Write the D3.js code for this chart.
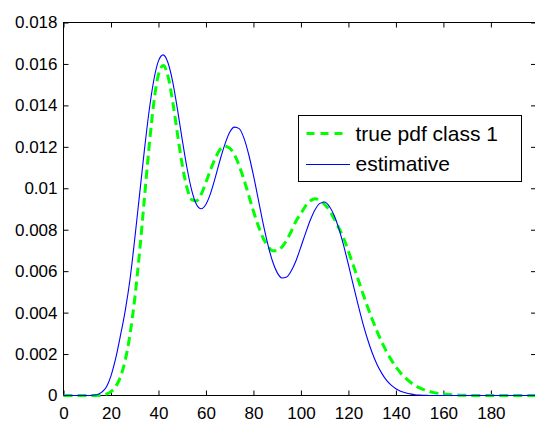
<!DOCTYPE html>
<html><head><meta charset="utf-8">
<script src="https://cdn.jsdelivr.net/npm/d3@7"></script>
<style>
body{margin:0;background:#fff;}
svg{display:block;}
text{font-family:"Liberation Sans",Arial,Helvetica,sans-serif;fill:#000;}
</style>
</head><body>
<svg id="c" width="535" height="422"></svg>
<script>
// ---- data ----
const xValues = [0,2,4,6,8,10,12,14,16,18,20,22,24,26,28,30,32,34,36,38,40,42,44,46,48,50,52,54,56,58,60,62,64,66,68,70,72,74,76,78,80,82,84,86,88,90,92,94,96,98,100,102,104,106,108,110,112,114,116,118,120,122,124,126,128,130,132,134,136,138,140,142,144,146,148,150,152,154,156,158,160,162,164,166,168,170,172,199];
const truePdf = [0,0,0,0,0,0,0,0,0.00002,0.00007,0.00019,0.00043,0.0009,0.0017,0.00294,0.00467,0.00688,0.00941,0.01194,0.0141,0.01549,0.01592,0.01541,0.01417,0.01262,0.01114,0.01003,0.00945,0.00939,0.00971,0.01029,0.01091,0.01147,0.01188,0.01203,0.01194,0.01162,0.01109,0.01042,0.00966,0.00889,0.0082,0.00762,0.00721,0.00699,0.00698,0.00717,0.0075,0.00794,0.00843,0.00878,0.00915,0.0094,0.0095,0.00942,0.00922,0.00893,0.00853,0.00808,0.00759,0.00696,0.0063,0.00563,0.00495,0.0043,0.00368,0.00311,0.00259,0.00213,0.00173,0.00138,0.00109,0.00085,0.00065,0.00049,0.00037,0.00027,0.0002,0.00014,0.0001,0.00007,0.00005,0.00003,0.00002,0.00001,0.00001,0,0];
const estimative = [0,0,0,0,0,0,0.00001,0.00004,0.00015,0.0004,0.00095,0.0018,0.0029,0.0041,0.0056,0.00755,0.00966,0.01177,0.01368,0.0152,0.01615,0.01644,0.01606,0.01514,0.01381,0.01235,0.01099,0.0099,0.00922,0.00901,0.00923,0.00978,0.01055,0.01139,0.01213,0.0127,0.01295,0.01288,0.01242,0.01163,0.01062,0.00949,0.00834,0.00732,0.00649,0.00593,0.00567,0.00572,0.00603,0.00653,0.00718,0.00785,0.00848,0.00898,0.00927,0.00934,0.00912,0.00869,0.00804,0.00723,0.00631,0.00535,0.00441,0.00352,0.00274,0.00206,0.00151,0.00108,0.00074,0.0005,0.00033,0.00021,0.00013,0.00008,0.00004,0.00002,0.00001,0,0,0,0,0,0,0,0,0,0,0];
const xTicks = [0,20,40,60,80,100,120,140,160,180];
const yTicks = [0,0.002,0.004,0.006,0.008,0.01,0.012,0.014,0.016,0.018];
const yTickLabels = ["0","0.002","0.004","0.006","0.008","0.01","0.012","0.014","0.016","0.018"];
const seriesNames = ["true pdf class 1","estimative"];

// ---- layout ----
const L = 63.5, R = 536, T = 22.5, B = 395.5;
const svg = d3.select("#c");
const x = d3.scaleLinear().domain([0,199]).range([L,R]);
const y = d3.scaleLinear().domain([0,0.018]).range([B,T]);

svg.append("rect").attr("x",0).attr("y",0).attr("width",535).attr("height",422).attr("fill","#fff");

// frame
svg.append("rect").attr("x",L).attr("y",T).attr("width",R-L).attr("height",B-T)
  .attr("fill","none").attr("stroke","#000").attr("stroke-width",1);

const fs = "17px";
const gB = svg.append("g").attr("transform",`translate(0,${B})`)
  .call(d3.axisBottom(x).tickValues(xTicks).tickSizeInner(-5).tickSizeOuter(0).tickPadding(11.5));
const gT = svg.append("g").attr("transform",`translate(0,${T})`)
  .call(d3.axisTop(x).tickValues(xTicks).tickSizeInner(-5).tickSizeOuter(0).tickFormat(""));
const gL = svg.append("g").attr("transform",`translate(${L},0)`)
  .call(d3.axisLeft(y).tickValues(yTicks).tickSizeInner(-5).tickSizeOuter(0).tickPadding(6)
    .tickFormat((d,i)=>yTickLabels[i]));
const gR = svg.append("g").attr("transform",`translate(${R},0)`)
  .call(d3.axisRight(y).tickValues(yTicks).tickSizeInner(-5).tickSizeOuter(0).tickFormat(""));
[gB,gT,gL,gR].forEach(g=>{
  g.select(".domain").remove();
  g.selectAll("line").attr("stroke","#000").attr("stroke-width",1);
  g.selectAll("text").style("font-size",fs).attr("fill","#000")
   .style("font-family",'"Liberation Sans",Arial,sans-serif');
});

// clip
svg.append("clipPath").attr("id","clip").append("rect")
  .attr("x",L).attr("y",T-3).attr("width",R-L).attr("height",B-T+6);

const pts1 = xValues.map((v,i)=>[v,truePdf[i]]);
const pts2 = xValues.map((v,i)=>[v,estimative[i]]);
const line = d3.line().x(d=>x(d[0])).y(d=>y(d[1])).curve(d3.curveMonotoneX);

const plot = svg.append("g").attr("clip-path","url(#clip)");
plot.append("path").datum(pts1).attr("d",line).attr("fill","none")
  .attr("stroke","#00ff00").attr("stroke-width",3).attr("stroke-dasharray","9,5");
plot.append("path").datum(pts2).attr("d",line).attr("fill","none")
  .attr("stroke","#0000ff").attr("stroke-width",1.1);

// legend
const lg = svg.append("g");
lg.append("rect").attr("x",298.5).attr("y",115.5).attr("width",223).attr("height",66)
  .attr("fill","#fff").attr("stroke","#000").attr("stroke-width",1);
lg.append("line").attr("x1",306.5).attr("x2",348).attr("y1",133.5).attr("y2",133.5)
  .attr("stroke","#00ff00").attr("stroke-width",3).attr("stroke-dasharray","8,6");
lg.append("line").attr("x1",306).attr("x2",350).attr("y1",164.5).attr("y2",164.5)
  .attr("stroke","#0000ff").attr("stroke-width",1.1);
lg.append("text").attr("x",355.5).attr("y",140.5).style("font-size","21px").text(seriesNames[0]);
lg.append("text").attr("x",355.5).attr("y",171).style("font-size","21px").text(seriesNames[1]);
</script>
</body></html>
